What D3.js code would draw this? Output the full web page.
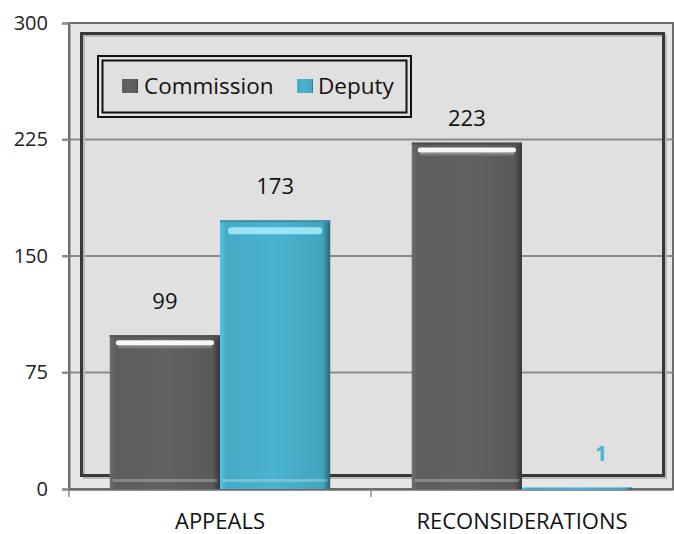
<!DOCTYPE html>
<html><head><meta charset="utf-8">
<script src="https://cdn.jsdelivr.net/npm/d3@7"></script>
<style>body{margin:0;background:#fff}svg{display:block}text{font-family:"Open Sans",sans-serif}</style>
</head><body><svg id="c" width="674" height="534"></svg>
<script>
const categories = ["APPEALS", "RECONSIDERATIONS"];
const seriesNames = ["Commission", "Deputy"];
const commission = [99, 223];
const deputy = [173, 1];
const yTicks = [0, 75, 150, 225, 300];
const colors = {Commission: "#626262", Deputy: "#4ab3d0"};

(function () {
const svg = d3.select("#c");
const pL = 69, pR = 673, pT = 23, pB = 489;
const x = d3.scaleBand().domain(categories).range([pL, pR]).paddingInner(0.27).paddingOuter(0.135);
const xs = d3.scaleBand().domain(seriesNames).range([0, x.bandwidth()]);
const y = d3.scaleLinear().domain([0, 300]).range([pB, pT]);

const defs = svg.append("defs");
function grads(id, base) {
  const c = d3.color(base);
  const g = defs.append("linearGradient").attr("id", id).attr("x1", 0).attr("x2", 1).attr("y1", 0).attr("y2", 0);
  g.append("stop").attr("offset", "0%").attr("stop-color", c.brighter(0.3));
  g.append("stop").attr("offset", "6%").attr("stop-color", c.darker(0.15));
  g.append("stop").attr("offset", "50%").attr("stop-color", c);
  g.append("stop").attr("offset", "93%").attr("stop-color", c.darker(0.25));
  g.append("stop").attr("offset", "100%").attr("stop-color", c.darker(1.6));
}
grads("gCommission", colors.Commission);
grads("gDeputy", colors.Deputy);
const hl = defs.append("linearGradient").attr("id", "hl").attr("x1", 0).attr("x2", 0).attr("y1", 0).attr("y2", 1);
hl.append("stop").attr("offset", "0%").attr("stop-color", "#fff").attr("stop-opacity", 1);
hl.append("stop").attr("offset", "100%").attr("stop-color", "#fff").attr("stop-opacity", 0);

// plot background and frames
svg.append("rect").attr("x", pL).attr("y", pT).attr("width", pR - pL).attr("height", pB - pT)
  .attr("fill", "#e6e6e6").attr("stroke", "#6e6e6e").attr("stroke-width", 2);
svg.append("rect").attr("x", 81.5).attr("y", 33.5).attr("width", 582).attr("height", 442)
  .attr("fill", "#e0e0e0");
svg.append("g").selectAll("line").data(yTicks.filter(d => d > 0 && d < 300)).join("line")
  .attr("x1", pL - 7).attr("x2", pR).attr("y1", d => y(d)).attr("y2", d => y(d))
  .attr("stroke", "#8c8c8c").attr("stroke-width", 2);
svg.append("rect").attr("x", 84).attr("y", 36).attr("width", 582).attr("height", 442)
  .attr("fill", "none").attr("stroke", "#b8b8b8").attr("stroke-width", 2);
svg.append("rect").attr("x", 81.5).attr("y", 33.5).attr("width", 582).attr("height", 442)
  .attr("fill", "none").attr("stroke", "#383838").attr("stroke-width", 3);

// y axis
const yAxis = svg.append("g").attr("transform", `translate(${pL},0)`)
  .call(d3.axisLeft(y).tickValues(yTicks).tickSize(7).tickPadding(14));
yAxis.select(".domain").attr("stroke", "#6e6e6e").attr("stroke-width", 2);
yAxis.selectAll(".tick line").attr("stroke", "#8c8c8c").attr("stroke-width", 2);
yAxis.selectAll("text").attr("font-size", 20).attr("fill", "#222");

// x axis
const xAxis = svg.append("g").attr("transform", `translate(0,${pB})`)
  .call(d3.axisBottom(x).tickSize(0).tickPadding(24));
xAxis.select(".domain").attr("stroke", "#6e6e6e").attr("stroke-width", 2.5);
xAxis.selectAll("text").attr("font-size", 22).attr("fill", "#111");
const bounds = [pL, x(categories[1]) - x.step() * x.paddingInner() / 2];
svg.append("g").selectAll("line").data(bounds).join("line")
  .attr("x1", d => d).attr("x2", d => d).attr("y1", pB).attr("y2", pB + 8)
  .attr("stroke", "#8c8c8c").attr("stroke-width", 1.5);

// bars
const rows = categories.map((c, i) => ({cat: c, vals: [{s: "Commission", v: commission[i]}, {s: "Deputy", v: deputy[i]}]}));
const g = svg.append("g");
rows.forEach(r => {
  r.vals.forEach(d => {
    const bx = x(r.cat) + xs(d.s), bw = xs.bandwidth(), by = y(d.v), bh = y(0) - y(d.v);
    g.append("rect").attr("x", bx).attr("y", by).attr("width", bw).attr("height", Math.max(bh, 2.5))
      .attr("fill", `url(#g${d.s})`);
    if (bh > 20) {
      g.append("rect").attr("x", bx).attr("y", by).attr("width", bw).attr("height", 2)
        .attr("fill", d3.color(colors[d.s]).darker(0.6));
      if (d.s === "Commission") {
        g.append("rect").attr("x", bx + 6).attr("y", by + 5).attr("width", bw - 12).attr("height", 5).attr("rx", 2.5)
          .attr("fill", "#ffffff").attr("opacity", 0.95);
        g.append("rect").attr("x", bx + 8).attr("y", by + 10).attr("width", bw - 16).attr("height", 4)
          .attr("fill", "url(#hl)").attr("opacity", 0.35);
      } else {
        g.append("rect").attr("x", bx + 8).attr("y", by + 7).attr("width", bw - 16).attr("height", 7).attr("rx", 3)
          .attr("fill", "#aef3ff").attr("opacity", 0.8);
      }
      g.append("rect").attr("x", bx + 3).attr("y", y(0) - 10).attr("width", bw - 6).attr("height", 3)
        .attr("fill", "#ffffff").attr("opacity", 0.25);
    }
    const lbl = svg.append("text").attr("x", bx + bw / 2).attr("text-anchor", "middle").text(d.v);
    if (bh > 20) {
      lbl.attr("y", by - (d.v > 200 ? 17 : 26)).attr("font-size", 22).attr("fill", "#111");
    } else {
      lbl.attr("x", bx + bw / 2 + 24).attr("y", by - 26).attr("font-size", 21).attr("font-weight", "bold").attr("fill", colors.Deputy);
    }
  });
});

// legend
const lg = svg.append("g");
lg.append("rect").attr("x", 98).attr("y", 56).attr("width", 313).attr("height", 61).attr("fill", "none").attr("stroke", "#111").attr("stroke-width", 2);
lg.append("rect").attr("x", 102.5).attr("y", 60.5).attr("width", 304).attr("height", 52).attr("fill", "none").attr("stroke", "#111").attr("stroke-width", 2);
const legX = [122, 297];
const legTx = [144, 318];
seriesNames.forEach((s, i) => {
  lg.append("rect").attr("x", legX[i]).attr("y", 79).attr("width", 16).attr("height", 14).attr("fill", `url(#g${s})`);
  lg.append("text").attr("x", legTx[i]).attr("y", 94).attr("font-size", 22.5).attr("fill", "#111").text(s);
});
})();
</script></body></html>
